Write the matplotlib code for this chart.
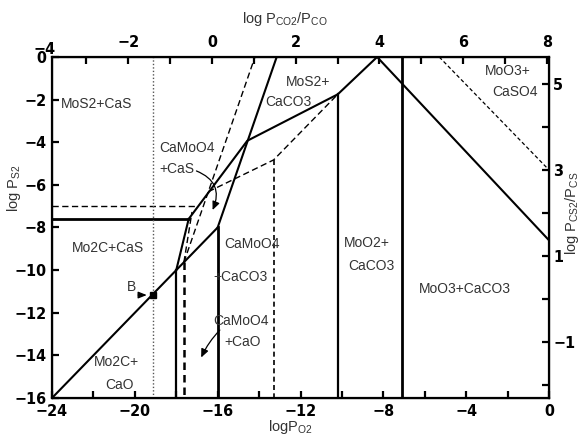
import matplotlib
matplotlib.use("Agg")
import matplotlib.pyplot as plt
from matplotlib import font_manager as fm
from matplotlib.font_manager import FontProperties
from matplotlib.patches import FancyArrowPatch
import matplotlib.transforms as mtransforms

# ---------------- data ----------------
# solid phase boundaries (log PO2, log PS2)
carbide_sulfide_x = [-24, -17.4]
carbide_sulfide_y = [-7.6, -7.6]
main_boundary_x = [-17.4, -14.57, -10.2, -8.3, 0]
main_boundary_y = [-7.6, -3.93, -1.75, 0, -8.6]
steep_boundary_x = [-16, -13.15]
steep_boundary_y = [-8, 0]
diagonal_x = [-24, -16]
diagonal_y = [-16, -8]
wedge_x = [-18, -17.4]
wedge_y = [-10, -7.6]
vert_solid_x = [-18, -16, -10.2, -7.1]
vert_solid_top = [-10, -8, -1.75, 0]
vert_solid_lw = [1.6, 2.0, 1.6, 2.0]

# dashed boundaries
dash_h_x = [-24, -16.95]
dash_h_y = [-7.0, -7.0]
dash_steep_x = [-17.63, -14.2]
dash_steep_y = [-9.63, 0]
dash_short_x = [-17.63, -17.24]
dash_short_y = [-9.63, -7.27]
dash_poly_x = [-16.45, -13.3, -10.2]
dash_poly_y = [-6.32, -4.83, -1.75]
dash_sulfate_x = [-5.3, 0]
dash_sulfate_y = [0, -5.3]
vert_dash_x = [-17.63, -13.3]
vert_dash_top = [-9.63, -4.83]
vert_dash_lw = [1.8, 1.2]

dotted_x = -19.14
point_B = (-19.14, -11.17)

# axes
x_ticks = [-24, -20, -16, -12, -8, -4, 0]
y_ticks = [0, -2, -4, -6, -8, -10, -12, -14, -16]
top_ticks = [-2, 0, 2, 4, 6, 8]
right_ticks = [5, 3, 1, -1]

# region labels: (text, x, y)
region_labels = [
    ("MoS2+CaS", -21.83, -2.21),
    ("MoS2+", -11.64, -1.16),
    ("CaCO3", -12.6, -2.1),
    ("MoO3+", -1.98, -0.66),
    ("CaSO4", -1.64, -1.64),
    ("CaMoO4", -17.48, -4.27),
    ("+CaS", -17.96, -5.26),
    ("Mo2C+CaS", -21.3, -8.98),
    ("CaMoO4", -14.36, -8.78),
    ("+CaCO3", -14.92, -10.31),
    ("CaMoO4", -14.88, -12.37),
    ("+CaO", -14.8, -13.36),
    ("Mo2C+", -20.88, -14.3),
    ("CaO", -20.75, -15.39),
    ("MoO2+", -8.79, -8.71),
    ("CaCO3", -8.56, -9.79),
    ("MoO3+CaCO3", -4.06, -10.9),
]


def fmt(v):
    return f"\u2212{abs(v)}" if v < 0 else str(v)


# ---------------- fonts ----------------
# numbers in a narrow bold face when one is installed
narrow_files = [f.fname for f in fm.fontManager.ttflist
                if any(k in f.fname for k in ("Narrow", "Condensed"))
                and ("Bold" in f.fname) and ("Oblique" not in f.fname) and ("Italic" not in f.fname)
                and ("Mono" not in f.fname) and ("Serif" not in f.fname)]
if narrow_files:
    tick_font = FontProperties(fname=sorted(narrow_files)[0], size=11.5)
else:
    tick_font = FontProperties(family="DejaVu Sans", weight="bold", size=10.5)

label_family = "Liberation Sans"
plt.rcParams["font.family"] = [label_family, "DejaVu Sans"]
plt.rcParams["mathtext.fontset"] = "custom"
plt.rcParams["mathtext.rm"] = label_family
plt.rcParams["mathtext.it"] = label_family
plt.rcParams["mathtext.default"] = "rm"

text_color = "#333333"

fig = plt.figure(figsize=(5.8, 4.37), dpi=100)
ax = fig.add_axes([52 / 580, 1 - 398 / 437, 497 / 580, 341 / 437])
ax.set_xlim(-24, 0)
ax.set_ylim(-16, 0)

# solid lines
ax.plot(carbide_sulfide_x, carbide_sulfide_y, color="black", lw=2.0)
ax.plot(main_boundary_x, main_boundary_y, color="black", lw=1.5)
ax.plot(steep_boundary_x, steep_boundary_y, color="black", lw=1.5)
ax.plot(diagonal_x, diagonal_y, color="black", lw=1.5)
ax.plot(wedge_x, wedge_y, color="black", lw=1.5)
for x, top, lw in zip(vert_solid_x, vert_solid_top, vert_solid_lw):
    ax.plot([x, x], [top, -16], color="black", lw=lw)

# dashed lines
dash = dict(color="black", lw=1.0, linestyle=(0, (4.5, 2.5)))
ax.plot(dash_h_x, dash_h_y, **dash)
ax.plot(dash_steep_x, dash_steep_y, **dash)
ax.plot(dash_short_x, dash_short_y, **dash)
ax.plot(dash_poly_x, dash_poly_y, **dash)
ax.plot(dash_sulfate_x, dash_sulfate_y, color="black", lw=0.9, linestyle=(0, (3, 2)))
for x, top, lw in zip(vert_dash_x, vert_dash_top, vert_dash_lw):
    ax.plot([x, x], [top, -16], color="black", lw=lw, linestyle=(0, (3, 2)))

# dotted reference line
ax.axvline(dotted_x, color="#555555", lw=1.0, linestyle=(0, (1, 1.5)))

# point B
ax.plot(*point_B, marker="s", color="black", markersize=4.5)
ax.text(-20.15, -10.78, "B", fontsize=10, color=text_color, ha="center", va="center")
ax.annotate("", xy=(point_B[0] - 0.15, point_B[1]), xytext=(-19.97, point_B[1]),
            arrowprops=dict(arrowstyle="-|>,head_length=0.5,head_width=0.2", color="black", lw=0.9))

# region labels
for txt, x, y in region_labels:
    ax.text(x, y, txt, fontsize=10, color=text_color, ha="center", va="center")

# curved arrows
arr1 = FancyArrowPatch((-17.15, -5.3), (-16.3, -7.3), connectionstyle="arc3,rad=-0.55",
                       arrowstyle="-|>,head_length=5,head_width=2.2", color="black", lw=0.9)
ax.add_patch(arr1)
arr2 = FancyArrowPatch((-15.8, -12.72), (-16.85, -14.22), connectionstyle="arc3,rad=0.1",
                       arrowstyle="-|>,head_length=5,head_width=2.2", color="black", lw=0.9)
ax.add_patch(arr2)

# bottom / left axes
ax.set_xticks(x_ticks)
ax.set_xticks([-22, -18, -14, -10, -6, -2], minor=True)
ax.set_yticks(y_ticks)
ax.set_xticklabels([fmt(v) for v in x_ticks], fontproperties=tick_font)
ax.set_yticklabels([fmt(v) for v in y_ticks], fontproperties=tick_font)
ax.tick_params(which="both", direction="in", length=5, width=1.6, top=False, right=False, pad=4)

for s in ax.spines.values():
    s.set_linewidth(1.6)

# top axis: log PCO2/PCO
top_lo, top_hi = -3.82, 8.05
axt = ax.twiny()
axt.set_xlim(top_lo, top_hi)
axt.set_xticks(top_ticks)
axt.set_xticks([-3, -1, 1, 3, 5, 7], minor=True)
axt.set_xticklabels([fmt(v) for v in top_ticks], fontproperties=tick_font)
axt.tick_params(which="both", direction="in", length=5, width=1.6, pad=5)
trans_top = mtransforms.blended_transform_factory(axt.transData, axt.transAxes)
axt.text(-4, 1.0, fmt(-4), transform=trans_top, fontproperties=tick_font, ha="center",
         va="bottom", clip_on=False)

# right axis: log PCS2/PCS
axr = ax.twinx()
axr.set_ylim(-2.3, 5.63)
axr.set_yticks(right_ticks)
axr.set_yticks([4, 2, 0, -2], minor=True)
axr.set_yticklabels([fmt(v) for v in right_ticks], fontproperties=tick_font)
axr.tick_params(which="both", direction="in", length=5, width=1.6, pad=3)

# axis titles
fig.text(290 / 580, 1 - 427 / 437, r"logP$_{\mathrm{O2}}$", fontsize=10.5, color=text_color,
         ha="center", va="center")
fig.text(14 / 580, 1 - 188 / 437, r"log P$_{\mathrm{S2}}$", fontsize=10.5, color=text_color,
         ha="center", va="center", rotation=90)
fig.text(285 / 580, 1 - 19 / 437, r"log P$_{\mathrm{CO2}}$/P$_{\mathrm{CO}}$", fontsize=10.5,
         color=text_color, ha="center", va="center")
fig.text(572 / 580, 1 - 213 / 437, r"log P$_{\mathrm{CS2}}$/P$_{\mathrm{CS}}$", fontsize=10.5,
         color=text_color, ha="center", va="center", rotation=90)

fig.savefig("out.png", dpi=100)
